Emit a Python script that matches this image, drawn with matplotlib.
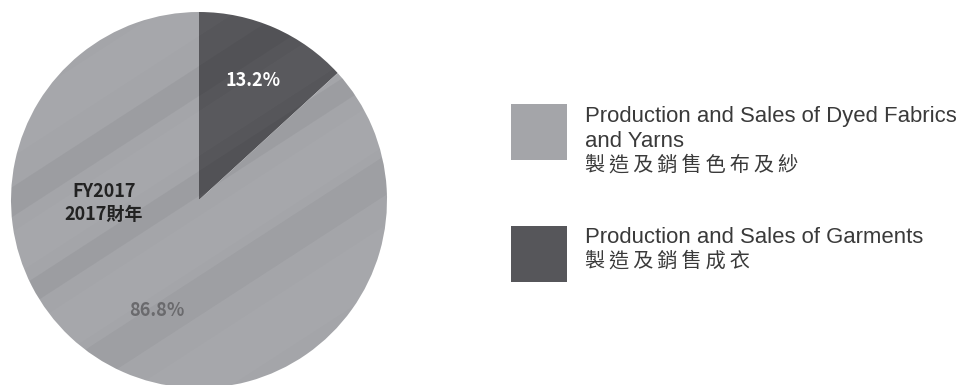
import matplotlib
matplotlib.use("Agg")
import matplotlib.pyplot as plt
from matplotlib.patches import Rectangle, Polygon

# data
segments = ["Production and Sales of Dyed Fabrics\nand Yarns", "Production and Sales of Garments"]
segments_zh = ["製造及銷售色布及紗", "製造及銷售成衣"]
shares = [13.2, 86.8]
share_labels = ["13.2%", "86.8%"]
year_label = "FY2017\n2017財年"

light = "#a4a5a9"
dark = "#56565a"

plt.rcParams["font.family"] = ["Liberation Sans", "Noto Sans CJK TC", "DejaVu Sans"]

fig = plt.figure(figsize=(9.57, 3.85), dpi=100)
ax = fig.add_axes([0, 0, 1, 1])

# pie: garments (dark) first, clockwise from the top
wedges, _ = ax.pie(shares, colors=[dark, light], startangle=90, counterclock=False,
                   center=(199, 185), radius=188, frame=True)
ax.set_xlim(0, 957)
ax.set_ylim(0, 385)
ax.set_aspect("equal")
ax.axis("off")

# soft diagonal sheen across the wedges
bands = [(-150, 60, "#ffffff", 0.025), (-60, 40, "#000000", 0.035), (-10, 50, "#ffffff", 0.025),
         (60, 25, "#000000", 0.045), (100, 45, "#ffffff", 0.025), (160, 30, "#000000", 0.045),
         (220, 50, "#ffffff", 0.025)]
for off, w, c, a in bands:
    for wd in wedges:
        poly = Polygon([(0, off), (0, off + w), (957, off + w + 620), (957, off + 620)],
                       closed=True, color=c, alpha=a, lw=0)
        ax.add_patch(poly)
        poly.set_clip_path(wd)

lab_font = ["Noto Sans CJK TC", "DejaVu Sans"]
ax.text(253, 385 - 80, share_labels[0], color="white", fontsize=13, fontweight="bold",
        ha="center", va="center", family=lab_font)
ax.text(157, 385 - 311, share_labels[1], color="#6a6a6d", fontsize=13, fontweight="bold",
        ha="center", va="center", family=lab_font)
ax.text(104, 385 - 203, year_label, color="#222222", fontsize=13, fontweight="bold",
        ha="center", va="center", linespacing=1.25, family=lab_font)

# legend
legend_colors = [light, dark]
tops = [104, 226]
first_line = [114, 235]
step = 25
for i, top in enumerate(tops):
    ax.add_patch(Rectangle((511, 385 - top - 56), 56, 56, color=legend_colors[i], lw=0))
    lines = segments[i].split("\n")
    y = first_line[i]
    for ln in lines:
        ax.text(585, 385 - y, ln, color="#3a3a3a", fontsize=15.9, ha="left", va="center_baseline")
        y += step
    ax.text(585, 385 - y + 1, "\u2009".join(segments_zh[i]), color="#3a3a3a", fontsize=14.5,
            ha="left", va="center_baseline", family=["Noto Sans CJK TC", "DejaVu Sans"])

fig.savefig("out.png", dpi=100, facecolor="white")
